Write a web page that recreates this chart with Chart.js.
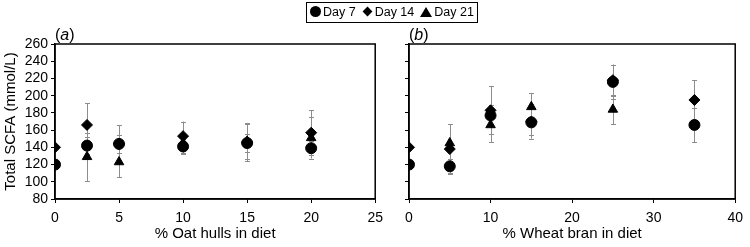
<!DOCTYPE html>
<html>
<head>
<meta charset="utf-8">
<script src="https://cdn.jsdelivr.net/npm/chart.js@4/dist/chart.umd.min.js"></script>
<style>
  body { margin: 0; background: #fff; font-family: "Liberation Sans", Arial, sans-serif; }
  #wrap { position: relative; width: 750px; height: 247px; overflow: hidden; }
  #left { position: absolute; left: 0; top: 0; }
  #right { position: absolute; left: 390px; top: 0; }
  #legend { position: absolute; left: 306px; top: 2px; height: 19px; border: 1px solid #000;
    font-size: 12.5px; line-height: 19px; padding: 0 3px; white-space: nowrap; color: #000; }
  #legend .it { display: inline-block; margin-right: 6px; }
  #legend .it:last-child { margin-right: 0; }
  .sym { display: inline-block; vertical-align: middle; margin-right: 2px; position: relative; top: -1px; }
  .circ { width: 11px; height: 11px; border-radius: 50%; background: #000; }
  .diam { width: 7px; height: 7px; background: #000; transform: rotate(45deg); margin-left: 2px; margin-right: 4px; }
  .tri { width: 0; height: 0; border-left: 6px solid transparent; border-right: 6px solid transparent; border-bottom: 10px solid #000; }
  .plab { position: absolute; top: 26px; font-size: 16px; color: #000; }
</style>
</head>
<body>
<div id="wrap">
  <canvas id="left" width="390" height="247"></canvas>
  <canvas id="right" width="360" height="247"></canvas>
  <div id="legend"><span class="it"><span class="sym circ"></span>Day 7</span><span class="it"><span class="sym diam"></span>Day 14</span><span class="it"><span class="sym tri"></span>Day 21</span></div>
  <div class="plab" style="left:55px">(<i>a</i>)</div>
  <div class="plab" style="left:409px">(<i>b</i>)</div>
</div>
<script>
// panel (a): oat hulls
const oatX = [0, 2.5, 5, 10, 15, 20];
const oatDay7 = [120, 142, 144, 141, 145, 139];
const oatDay14 = [140, 166, 144, 153, 146, 157];
const oatDay21 = [120, 129, 123, 145, 147, 151];
const oatErr7 = [0, 10, 10, 9, 10, 8];
const oatErr14 = [0, 25, 22, 17, 22, 26];
const oatErr21 = [0, 28, 18, 12, 20, 24];

// panel (b): wheat bran
const wheatX = [0, 5, 10, 15, 25, 35];
const wheatDay7 = [120, 118, 177, 169, 216, 166];
const wheatDay14 = [140, 138, 183, 170, 218, 195];
const wheatDay21 = [120, 145, 166, 187, 184, null];
const wheatErr7 = [0, 8, 12, 15, 20, 20];
const wheatErr14 = [0, 29, 28, 20, 18, 23];
const wheatErr21 = [0, 22, 20, 16, 17, 0];

const yTicks = [80, 100, 120, 140, 160, 180, 200, 220, 240, 260];
const FONT = "'Liberation Sans', Arial, sans-serif";

function pts(xs, ys, errs) {
  return xs.map((x, i) => ({ x: x, y: ys[i], e: errs[i] })).filter(p => p.y !== null);
}

// grey error bars drawn under the markers
const errorBars = {
  id: 'errorBars',
  beforeDatasetsDraw(chart) {
    const ctx = chart.ctx;
    const xs = chart.scales.x, ys = chart.scales.y;
    ctx.save();
    ctx.strokeStyle = '#8c8c8c';
    ctx.lineWidth = 1;
    chart.data.datasets.forEach(ds => {
      ds.data.forEach(p => {
        if (!p.e) return;
        const px = Math.round(xs.getPixelForValue(p.x)) + 0.5;
        const top = ys.getPixelForValue(p.y + p.e);
        const bot = ys.getPixelForValue(p.y - p.e);
        ctx.beginPath();
        ctx.moveTo(px, top); ctx.lineTo(px, bot);
        ctx.moveTo(px - 2.5, Math.round(top) + 0.5); ctx.lineTo(px + 2.5, Math.round(top) + 0.5);
        ctx.moveTo(px - 2.5, Math.round(bot) + 0.5); ctx.lineTo(px + 2.5, Math.round(bot) + 0.5);
        ctx.stroke();
      });
    });
    ctx.restore();
  }
};

const frame = {
  id: 'frame',
  afterDraw(chart) {
    const a = chart.chartArea, ctx = chart.ctx;
    ctx.save();
    ctx.strokeStyle = '#000';
    ctx.lineWidth = 1.5;
    ctx.strokeRect(a.left, a.top, a.right - a.left, a.bottom - a.top);
    ctx.restore();
  }
};

function makeChart(id, xs, d7, d14, d21, e7, e14, e21, xMax, xStep, xTitle, showY, yWidth, rightPad) {
  return new Chart(document.getElementById(id), {
    type: 'scatter',
    data: {
      datasets: [
        { label: 'Day 7', data: pts(xs, d7, e7), pointStyle: 'circle', pointRadius: 5.5,
          backgroundColor: '#000', borderColor: '#000' },
        { label: 'Day 14', data: pts(xs, d14, e14), pointStyle: 'rectRot', pointRadius: 5.5,
          backgroundColor: '#000', borderColor: '#000' },
        { label: 'Day 21', data: pts(xs, d21, e21), pointStyle: 'triangle', pointRadius: 5.5,
          backgroundColor: '#000', borderColor: '#000' }
      ]
    },
    options: {
      responsive: false,
      animation: false,
      layout: { padding: { top: 44, right: rightPad, left: 0, bottom: 0 } },
      plugins: { legend: { display: false }, tooltip: { enabled: false } },
      scales: {
        x: {
          type: 'linear', min: 0, max: xMax,
          ticks: { stepSize: xStep, color: '#000', font: { family: FONT, size: 14 }, padding: 7, maxRotation: 0, autoSkip: false },
          grid: { drawOnChartArea: false, color: '#000', tickLength: 4 },
          border: { color: '#000', width: 1.5 },
          title: { display: true, text: xTitle, color: '#000', font: { family: FONT, size: 15 }, padding: { top: 9 } },
          afterFit(s) { s.height = 48; }
        },
        y: {
          type: 'linear', min: yTicks[0], max: yTicks[yTicks.length - 1],
          afterBuildTicks(s) { s.ticks = yTicks.map(v => ({ value: v })); },
          ticks: { display: showY, color: '#000', font: { family: FONT, size: 14 }, padding: 3, autoSkip: false },
          grid: { drawOnChartArea: false, color: '#000', tickLength: 4 },
          border: { color: '#000', width: 1.5 },
          title: { display: showY, text: 'Total SCFA (mmol/L)', color: '#000', font: { family: FONT, size: 15 }, padding: 2 },
          afterFit(s) { s.width = yWidth; }
        }
      }
    },
    plugins: [errorBars, frame]
  });
}

makeChart('left', oatX, oatDay7, oatDay14, oatDay21, oatErr7, oatErr14, oatErr21,
  25, 5, '% Oat hulls in diet', true, 55, 11);
makeChart('right', wheatX, wheatDay7, wheatDay14, wheatDay21, wheatErr7, wheatErr14, wheatErr21,
  40, 10, '% Wheat bran in diet', false, 19, 9);
</script>
</body>
</html>
